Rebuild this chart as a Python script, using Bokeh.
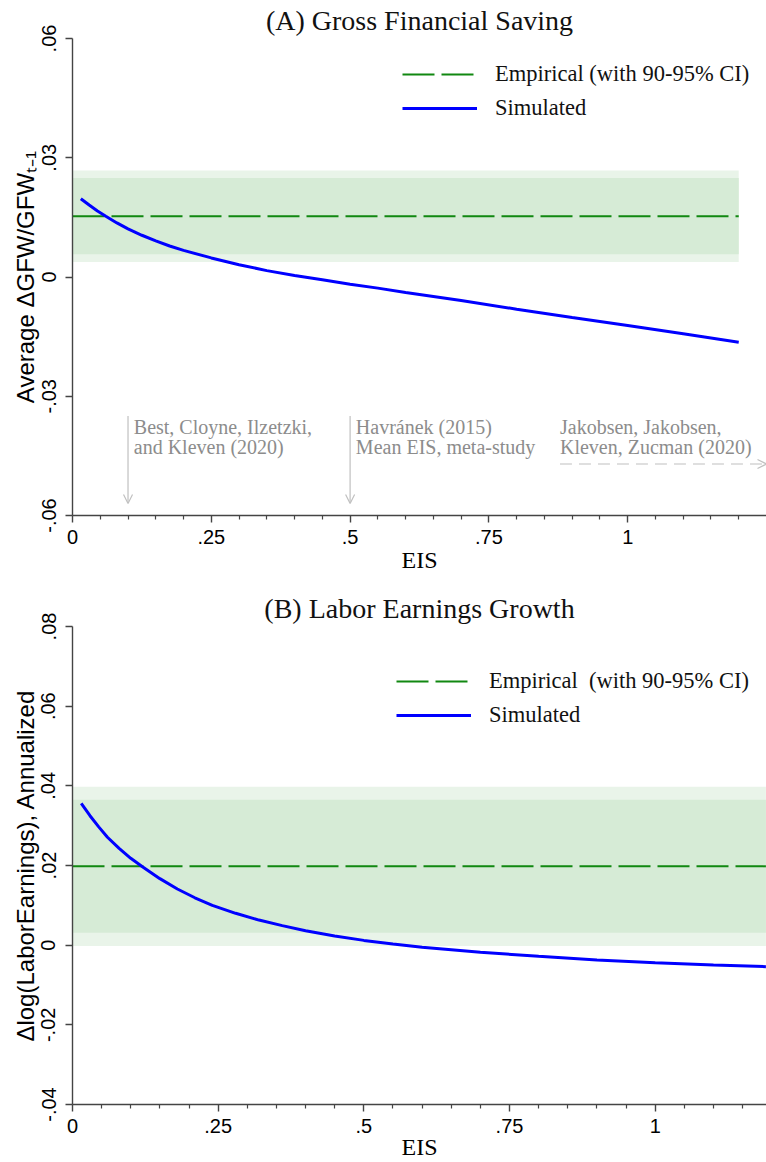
from bokeh.plotting import figure
from bokeh.models import (Range1d, FixedTicker, CustomJSTickFormatter, Label, Arrow,
                          OpenHead, Legend, LegendItem)
from bokeh.layouts import column
from bokeh.embed import file_html
from bokeh.resources import INLINE

# ---------------- data ----------------
# Panel A: Gross financial saving
eis_a = [0.015, 0.03, 0.045, 0.06, 0.08, 0.10, 0.125, 0.15, 0.175, 0.20, 0.25, 0.30,
         0.35, 0.40, 0.45, 0.50, 0.55, 0.60, 0.70, 0.80, 0.90, 1.00, 1.10, 1.20]
sim_a = [0.0197, 0.0181, 0.0166, 0.0153, 0.0136, 0.0121, 0.0105, 0.0091, 0.0078, 0.0067,
         0.0048, 0.0031, 0.0016, 0.0004, -0.0007, -0.0018, -0.0028, -0.0039, -0.0059,
         -0.0081, -0.0102, -0.0122, -0.0143, -0.0164]
emp_x_a = [0.0, 1.2]
emp_a = 0.0153
ci90_a = [0.0057, 0.0249]
ci95_a = [0.0038, 0.0268]

# Panel B: Labor earnings growth
eis_b = [0.015, 0.03, 0.045, 0.06, 0.08, 0.10, 0.12, 0.15, 0.18, 0.21, 0.24, 0.28, 0.32,
         0.36, 0.40, 0.45, 0.50, 0.55, 0.60, 0.70, 0.80, 0.90, 1.00, 1.10, 1.19]
sim_b = [0.0356, 0.0325, 0.0297, 0.0271, 0.0243, 0.0218, 0.0197, 0.0167, 0.0141, 0.0119,
         0.0100, 0.0080, 0.0063, 0.0049, 0.0036, 0.0023, 0.0012, 0.0003, -0.0005,
         -0.0018, -0.0028, -0.0037, -0.0044, -0.0050, -0.0054]
emp_x_b = [0.0, 1.19]
emp_b = 0.0198
ci90_b = [0.0031, 0.0365]
ci95_b = [-0.0002, 0.0398]

x_ticks = [0, 0.25, 0.5, 0.75, 1.0]
x_minor_a = [0.05, 0.1, 0.15, 0.2, 0.3, 0.35, 0.4, 0.45, 0.55, 0.6, 0.65, 0.7,
             0.8, 0.85, 0.9, 0.95, 1.05, 1.1, 1.15, 1.2]
x_minor_b = [0.05, 0.1, 0.15, 0.2, 0.3, 0.35, 0.4, 0.45, 0.55, 0.6, 0.65, 0.7,
             0.8, 0.85, 0.9, 0.95, 1.05, 1.1, 1.15]
y_ticks_a = [-0.06, -0.03, 0, 0.03, 0.06]
y_ticks_b = [-0.04, -0.02, 0, 0.02, 0.04, 0.06, 0.08]

title_a = "(A) Gross Financial Saving"
title_b = "(B) Labor Earnings Growth"
ylabel_a = "Average \u0394GFW/GFW\u209c\u208b\u2081"
ylabel_b = "\u0394log(LaborEarnings), Annualized"
xlabel = "EIS"
legend_emp_a = "Empirical (with 90-95% CI)"
legend_emp_b = "Empirical  (with 90-95% CI)"
legend_sim = "Simulated"
notes = [
    (0.1, ["Best, Cloyne, Ilzetzki,", "and Kleven (2020)"]),
    (0.5, ["Havr\u00e1nek  (2015)", "Mean EIS, meta-study"]),
]
note_c = ["Jakobsen, Jakobsen,", "Kleven, Zucman (2020)"]
note_c_x = 0.878

# ---------------- styles ----------------
SERIF = "Liberation Serif"
SANS = "Liberation Sans"
GREEN = "#118811"
BLUE = "#0000ff"
BAND_OUT = "#e9f4e9"
BAND_IN = "#d6ebd6"
AXIS = "#444444"
GREY_TXT = "#8c8c8c"
GREY_ARR = "#c0c0c0"

fmt_code = """
const v = Math.round(tick * 10000) / 10000;
return String(v).replace(/^(-?)0\\./, "$1.");
"""


def style_axes(p, yt, xminor, ylab, xlab_standoff):
    p.xaxis.ticker = FixedTicker(ticks=x_ticks, minor_ticks=xminor)
    p.yaxis.ticker = FixedTicker(ticks=yt, minor_ticks=[])
    for ax in (p.xaxis[0], p.yaxis[0]):
        ax.formatter = CustomJSTickFormatter(code=fmt_code)
        ax.axis_line_color = AXIS
        ax.axis_line_width = 1.4
        ax.major_tick_line_color = AXIS
        ax.major_tick_line_width = 1.4
        ax.minor_tick_line_color = AXIS
        ax.minor_tick_line_width = 1.2
        ax.major_tick_out = 7
        ax.major_tick_in = 0
        ax.minor_tick_out = 4
        ax.minor_tick_in = 0
        ax.major_label_text_font = SANS
        ax.major_label_text_font_size = "20px"
        ax.major_label_text_color = "#000000"
        ax.axis_label_text_font_style = "normal"
        ax.axis_label_text_color = "#000000"
    p.xaxis.major_label_standoff = 7
    p.yaxis.major_label_standoff = 10
    p.yaxis.major_label_orientation = "vertical"
    p.xaxis.axis_label = xlabel
    p.xaxis.axis_label_text_font = SERIF
    p.xaxis.axis_label_text_font_size = "24px"
    p.xaxis.axis_label_standoff = xlab_standoff
    p.yaxis.axis_label = ylab
    p.yaxis.axis_label_text_font = SANS
    p.yaxis.axis_label_text_font_size = "24px"
    p.yaxis.axis_label_standoff = 0
    p.xgrid.visible = False
    p.ygrid.visible = False
    p.outline_line_color = None
    p.background_fill_color = "white"
    p.border_fill_color = "white"


def make_panel(height, xend, yr, top, bottom, title, ylab, xlab_standoff, title_standoff,
               eis, sim, emp_x, emp, ci90, ci95, yt, xminor, emp_label, legend_loc):
    p = figure(width=766, height=height, x_range=Range1d(0, xend), y_range=Range1d(*yr),
               output_backend="svg", toolbar_location=None, tools="",
               min_border_left=72, min_border_right=0, min_border_top=top,
               min_border_bottom=bottom, title=title)
    p.title.align = "center"
    p.title.text_font = SERIF
    p.title.text_font_size = "28px"
    p.title.text_font_style = "normal"
    p.title.text_color = "#111111"
    p.title.standoff = title_standoff
    p.title.offset = 2
    style_axes(p, yt, xminor, ylab, xlab_standoff)
    p.quad(left=emp_x[0], right=emp_x[1], bottom=ci95[0], top=ci95[1],
           fill_color=BAND_OUT, line_color=None)
    p.quad(left=emp_x[0], right=emp_x[1], bottom=ci90[0], top=ci90[1],
           fill_color=BAND_IN, line_color=None)
    r_emp = p.line(x=emp_x, y=[emp, emp], line_color=GREEN, line_width=2,
                   line_dash="32 7")
    r_sim = p.line(x=eis, y=sim, line_color=BLUE, line_width=3)
    leg = Legend(items=[LegendItem(label=emp_label, renderers=[r_emp]),
                        LegendItem(label=legend_sim, renderers=[r_sim])],
                 location=legend_loc, orientation="vertical",
                 background_fill_alpha=0, border_line_alpha=0, padding=0, margin=0,
                 spacing=4, glyph_width=75, glyph_height=30, label_height=30,
                 label_standoff=18, label_text_font=SERIF,
                 label_text_font_size="22.5px", label_text_color="#111111")
    p.add_layout(leg)
    return p


# ---------------- panel A ----------------
pA = make_panel(580, 1.25, (-0.06, 0.06), 36, 65, title_a, ylabel_a, 0, 5,
                eis_a, sim_a, emp_x_a, emp_a, ci90_a, ci95_a, y_ticks_a, x_minor_a,
                legend_emp_a, (330, 392))

note_y = [-0.03775, -0.04276]
for ax_, lines in notes:
    for ny, t in zip(note_y, lines):
        pA.add_layout(Label(x=ax_ + 0.0104, y=ny, text=t, text_font=SERIF,
                            text_font_size="20px", text_align="left",
                            text_baseline="alphabetic", text_color=GREY_TXT))
    pA.add_layout(Arrow(end=OpenHead(size=9, line_color=GREY_ARR, line_width=1.2),
                        x_start=ax_, y_start=-0.03495, x_end=ax_, y_end=-0.05699,
                        line_color=GREY_ARR, line_width=1.2))
for ny, t in zip(note_y, note_c):
    pA.add_layout(Label(x=note_c_x, y=ny, text=t, text_font=SERIF,
                        text_font_size="20px", text_align="left",
                        text_baseline="alphabetic", text_color=GREY_TXT))
pA.add_layout(Arrow(end=OpenHead(size=9, line_color=GREY_ARR, line_width=1.2),
                    x_start=note_c_x, y_start=-0.04705, x_end=1.25, y_end=-0.04705,
                    line_color=GREY_ARR, line_width=1.2, line_dash="12 7"))

# ---------------- panel B ----------------
pB = make_panel(582, 694 / 582.7, (-0.04, 0.08), 46, 58, title_b, ylabel_b, -2, 5,
                eis_b, sim_b, emp_x_b, emp_b, ci90_b, ci95_b, y_ticks_b, x_minor_b,
                legend_emp_b, (324, 374))

layout = column(pA, pB)
open("out.html", "w").write(file_html(layout, INLINE))
